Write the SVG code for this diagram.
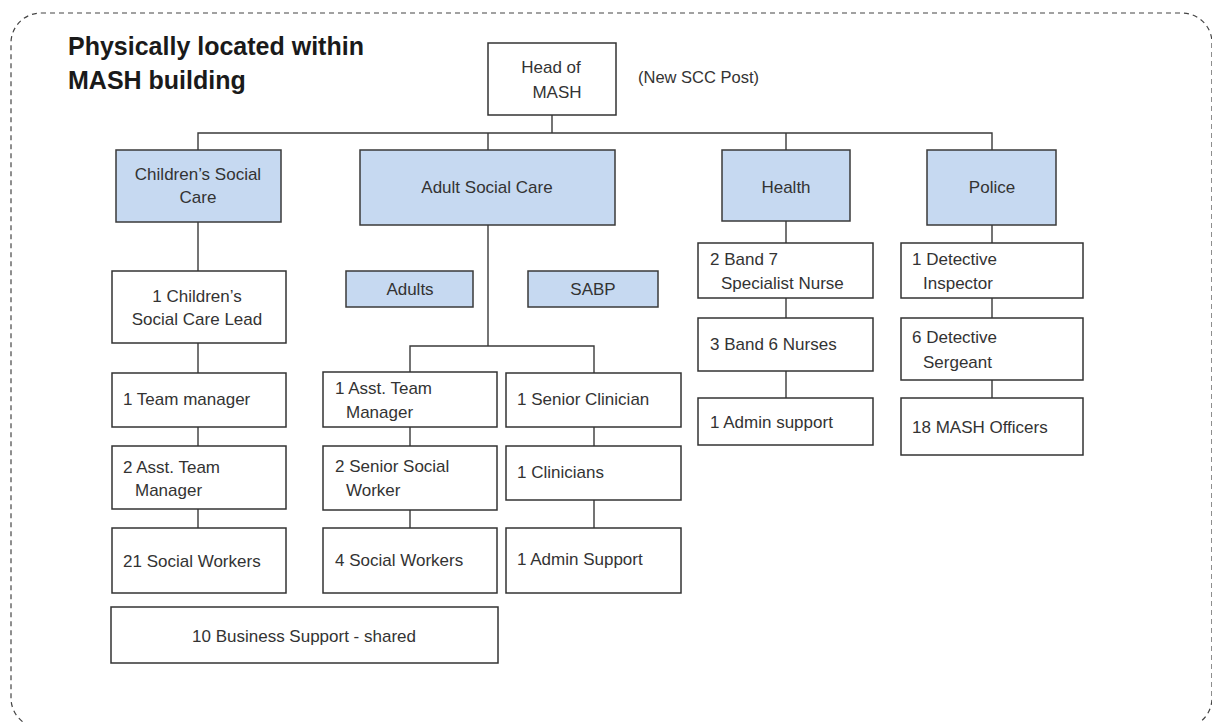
<svg xmlns="http://www.w3.org/2000/svg" width="1212" height="722" viewBox="0 0 1212 722">
  <style>
    .frame { fill: none; stroke: #444; stroke-width: 1.2; stroke-dasharray: 5 4; }
    .box { fill: #ffffff; stroke: #333; stroke-width: 1.5; }
    .hdr { fill: #c6d9f1; stroke: #3a3a3a; stroke-width: 1.5; }
    .t { font-family: "Liberation Sans", Arial, sans-serif; font-size: 17px; fill: #333; }
    .c { text-anchor: middle; }
    .title { font-family: "Liberation Sans", Arial, sans-serif; font-size: 25px; font-weight: bold; fill: #1a1a1a; }
    .note { font-family: "Liberation Sans", Arial, sans-serif; font-size: 16.5px; fill: #333; }
    .conn { fill: none; stroke: #3a3a3a; stroke-width: 1.4; }
  </style>
  <rect width="1212" height="722" fill="#ffffff"/>
  <rect class="frame" x="11" y="13" width="1201" height="715" rx="30" ry="30"/>
  <g id="title">
    <text class="title" x="68" y="55">Physically located within</text>
    <text class="title" x="68" y="89">MASH building</text>
  </g>
  <text class="note" x="638" y="83">(New SCC Post)</text>

  <g id="connectors">
    <path class="conn" d="M552,115 V133" stroke-width="2.2"/>
    <path class="conn" d="M198,150 V133 H992 V150"/>
    <path class="conn" d="M488,133 V150 M786,133 V150"/>
    <path class="conn" d="M198,222 V271 M198,343 V373 M198,427 V446 M198,509 V528"/>
    <path class="conn" d="M488,225 V346"/>
    <path class="conn" d="M410,372 V346 H594 V373"/>
    <path class="conn" d="M410,427 V446 M410,510 V528"/>
    <path class="conn" d="M594,427 V446 M594,500 V528"/>
    <path class="conn" d="M786,221 V243 M786,298 V318 M786,371 V398"/>
    <path class="conn" d="M992,225 V243 M992,298 V318 M992,380 V398"/>
  </g>

  <g id="head">
    <rect class="box" x="488" y="43" width="128" height="72"/>
    <text class="t c" x="551" y="73">Head of</text>
    <text class="t c" x="557" y="98">MASH</text>
  </g>

  <g id="csc">
    <rect class="hdr" x="116" y="150" width="165" height="72"/>
    <text class="t c" x="198" y="180">Children’s Social</text>
    <text class="t c" x="198" y="203">Care</text>
  </g>
  <g id="asc">
    <rect class="hdr" x="360" y="150" width="255" height="75"/>
    <text class="t c" x="487" y="193">Adult Social Care</text>
  </g>
  <g id="health">
    <rect class="hdr" x="722" y="150" width="128" height="71"/>
    <text class="t c" x="786" y="193">Health</text>
  </g>
  <g id="police">
    <rect class="hdr" x="927" y="150" width="129" height="75"/>
    <text class="t c" x="992" y="193">Police</text>
  </g>

  <g id="csc-lead">
    <rect class="box" x="112" y="271" width="174" height="72"/>
    <text class="t c" x="197" y="302">1 Children’s</text>
    <text class="t c" x="197" y="325">Social Care Lead</text>
  </g>
  <g id="team-manager">
    <rect class="box" x="112" y="373" width="174" height="54"/>
    <text class="t" x="123" y="405">1 Team manager</text>
  </g>
  <g id="asst-tm-2">
    <rect class="box" x="112" y="446" width="174" height="63"/>
    <text class="t" x="123" y="473">2 Asst. Team</text>
    <text class="t" x="135" y="496">Manager</text>
  </g>
  <g id="sw-21">
    <rect class="box" x="112" y="528" width="174" height="65"/>
    <text class="t" x="123" y="567">21 Social Workers</text>
  </g>
  <g id="business-support">
    <rect class="box" x="111" y="607" width="387" height="56"/>
    <text class="t c" x="304" y="642">10 Business Support - shared</text>
  </g>

  <g id="adults">
    <rect class="hdr" x="346" y="271" width="127" height="36"/>
    <text class="t c" x="410" y="295">Adults</text>
  </g>
  <g id="sabp">
    <rect class="hdr" x="528" y="271" width="130" height="36"/>
    <text class="t c" x="593" y="295">SABP</text>
  </g>

  <g id="asst-tm-1">
    <rect class="box" x="323" y="372" width="174" height="55"/>
    <text class="t" x="335" y="394">1 Asst. Team</text>
    <text class="t" x="346" y="418">Manager</text>
  </g>
  <g id="senior-sw">
    <rect class="box" x="323" y="446" width="174" height="64"/>
    <text class="t" x="335" y="472">2 Senior Social</text>
    <text class="t" x="346" y="496">Worker</text>
  </g>
  <g id="sw-4">
    <rect class="box" x="323" y="528" width="174" height="65"/>
    <text class="t" x="335" y="566">4 Social Workers</text>
  </g>

  <g id="senior-clinician">
    <rect class="box" x="506" y="373" width="175" height="54"/>
    <text class="t" x="517" y="405">1 Senior Clinician</text>
  </g>
  <g id="clinicians">
    <rect class="box" x="506" y="446" width="175" height="54"/>
    <text class="t" x="517" y="478">1 Clinicians</text>
  </g>
  <g id="admin-support-asc">
    <rect class="box" x="506" y="528" width="175" height="65"/>
    <text class="t" x="517" y="565">1 Admin Support</text>
  </g>

  <g id="band7">
    <rect class="box" x="698" y="243" width="175" height="55"/>
    <text class="t" x="710" y="265">2 Band 7</text>
    <text class="t" x="721" y="289">Specialist Nurse</text>
  </g>
  <g id="band6">
    <rect class="box" x="698" y="318" width="175" height="53"/>
    <text class="t" x="710" y="350">3 Band 6 Nurses</text>
  </g>
  <g id="admin-support-health">
    <rect class="box" x="698" y="398" width="175" height="47"/>
    <text class="t" x="710" y="428">1 Admin support</text>
  </g>

  <g id="det-inspector">
    <rect class="box" x="901" y="243" width="182" height="55"/>
    <text class="t" x="912" y="265">1 Detective</text>
    <text class="t" x="923" y="289">Inspector</text>
  </g>
  <g id="det-sergeant">
    <rect class="box" x="901" y="318" width="182" height="62"/>
    <text class="t" x="912" y="343">6 Detective</text>
    <text class="t" x="923" y="368">Sergeant</text>
  </g>
  <g id="mash-officers">
    <rect class="box" x="901" y="398" width="182" height="57"/>
    <text class="t" x="912" y="433">18 MASH Officers</text>
  </g>
</svg>
